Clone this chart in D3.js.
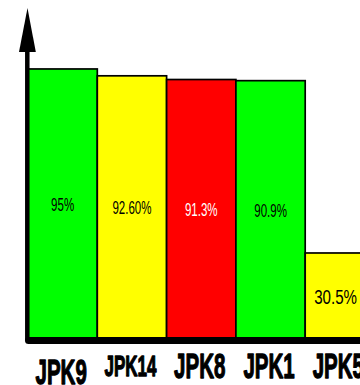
<!DOCTYPE html>
<html>
<head>
<meta charset="utf-8">
<script src="https://cdn.jsdelivr.net/npm/d3@7"></script>
<style>
  html, body { margin: 0; padding: 0; background: #fff; }
  svg { display: block; }
</style>
</head>
<body>
<svg id="chart" width="360" height="385"></svg>
<script>
// Scores per site
const categories = ["JPK9", "JPK14", "JPK8", "JPK1", "JPK5"];
const values = [95, 92.6, 91.3, 90.9, 30.5];
const valueLabels = ["95%", "92.60%", "91.3%", "90.9%", "30.5%"];
const barColors = ["#00ff00", "#ffff00", "#ff0000", "#00ff00", "#ffff00"];

const W = 360, H = 385;
const svg = d3.select("#chart");

const data = categories.map((c, i) => ({
  cat: c, value: values[i], label: valueLabels[i], color: barColors[i]
}));

const x = d3.scaleBand()
  .domain(categories)
  .range([28, 28 + 69.3 * categories.length])
  .padding(0);

const y = d3.scaleLinear()
  .domain([0, 100])
  .range([340, 54.7]);

// Bars
svg.append("g")
  .selectAll("rect")
  .data(data)
  .join("rect")
  .attr("x", d => x(d.cat))
  .attr("y", d => y(d.value))
  .attr("width", x.bandwidth())
  .attr("height", d => y(0) - y(d.value))
  .attr("fill", d => d.color)
  .attr("stroke", "#000")
  .attr("stroke-width", 1.7);

// Value labels inside bars (condensed)
const valueSize = d => (d.value < 50 ? 21 : 18);
const valueSqueeze = d => (d.value < 50 ? 0.72 : 0.64);
const vl = svg.append("g")
  .selectAll("text")
  .data(data)
  .join("text")
  .attr("font-family", "'Liberation Sans', Arial, sans-serif")
  .attr("font-size", valueSize)
  .attr("text-anchor", "middle")
  .attr("fill", d => (d.color === "#ff0000" ? "#fff" : "#000"))
  .text(d => d.label);

vl.each(function (d) {
  const fs = valueSize(d);
  const sx = valueSqueeze(d);
  const w = this.getComputedTextLength() * sx;
  let cx = x(d.cat) + x.bandwidth() / 2;
  cx = Math.min(cx, W - w / 2 - 3);
  const cy = (y(d.value) + y(0)) / 2 + 0.716 * fs / 2;
  d3.select(this).attr("transform", `translate(${cx},${cy}) scale(${sx},1)`);
});

// Axes: thick L-shaped frame with arrowhead on the value axis
svg.append("line")
  .attr("x1", 27.3).attr("y1", 50)
  .attr("x2", 27.3).attr("y2", 340)
  .attr("stroke", "#000").attr("stroke-width", 4.5);

svg.append("line")
  .attr("x1", 28.5).attr("y1", 340.5)
  .attr("x2", W + 10).attr("y2", 340.5)
  .attr("stroke", "#000").attr("stroke-width", 7)
  .attr("stroke-linecap", "round");

svg.append("path")
  .attr("d", d3.line()([[27.5, 8], [35.8, 52], [19, 52]]) + "Z")
  .attr("fill", "#000");

// Category labels: heavy, condensed, shrunk to fit the band
const catSqueeze = 0.57;
const maxCatWidth = 52;
const catBase = 36;
const cl = svg.append("g")
  .selectAll("text")
  .data(data)
  .join("text")
  .attr("font-family", "'Liberation Sans', Arial, sans-serif")
  .attr("font-weight", "bold")
  .attr("font-size", catBase)
  .attr("text-anchor", "middle")
  .attr("fill", "#000")
  .attr("stroke", "#000")
  .attr("stroke-width", 1.3)
  .attr("stroke-linejoin", "round")
  .text(d => d.cat);

cl.each(function (d, i) {
  const w = this.getComputedTextLength() * catSqueeze;
  const fs = w > maxCatWidth ? catBase * maxCatWidth / w : catBase;
  const drop = i === 0 ? 6.5 : 0;
  const cx = x(d.cat) + x.bandwidth() / 2 - 1.5;
  const by = 365 + 0.716 * fs / 2 + drop;
  d3.select(this)
    .attr("font-size", fs)
    .attr("transform", `translate(${cx},${by}) scale(${catSqueeze},1)`);
});
</script>
</body>
</html>
